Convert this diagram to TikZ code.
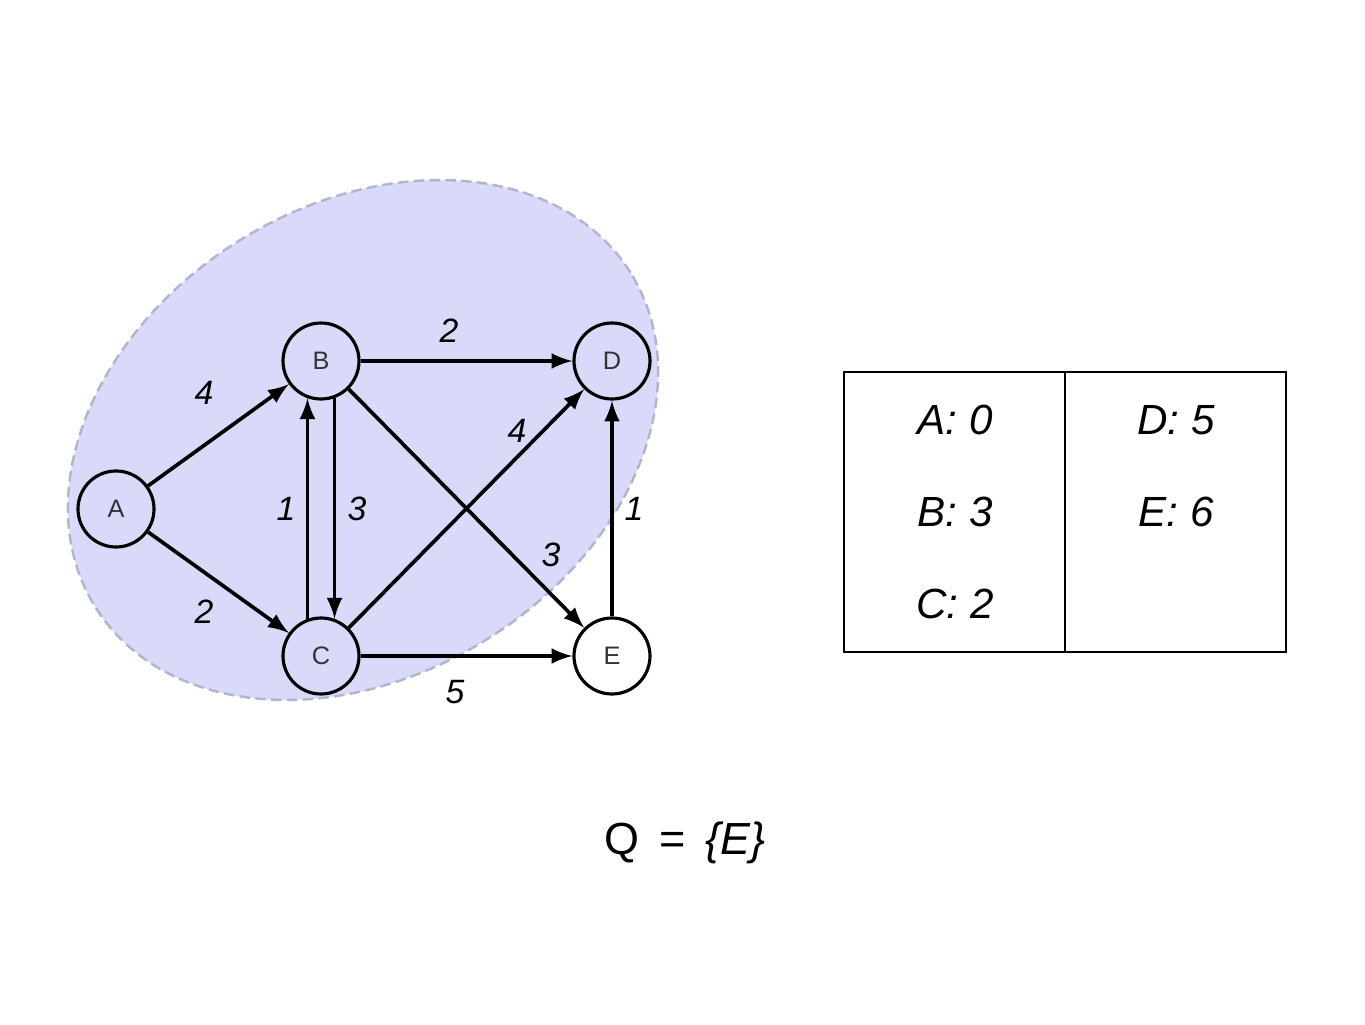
\documentclass[tikz,border=0pt]{standalone}
\usepackage{fontspec}
\setmainfont{Liberation Sans}
\usepackage{xcolor}
\usetikzlibrary{calc}
\definecolor{setfill}{RGB}{217,217,250}
\definecolor{setline}{RGB}{180,180,205}
\definecolor{lettergray}{RGB}{50,50,55}
\tikzset{
  vertex/.style={circle,draw=black,line width=0.9pt,minimum size=0.76cm,inner sep=0pt,
    font=\fontsize{7.2}{8}\selectfont,text=lettergray},
  edge/.style={line width=1.05pt,-latex},
  weight/.style={font=\fontsize{9.6}{10}\selectfont\itshape},
  dist/.style={font=\fontsize{12}{14}\selectfont\itshape}
}
\begin{document}
\begin{tikzpicture}
            \useasboundingbox (0,0) rectangle (13.65,10.24);
            % visited set
            \filldraw[fill=setfill,draw=setline,line width=0.7pt,dash pattern=on 3pt off 1.5pt,rotate around={32:(3.63,5.84)}]
                (3.63,5.84) ellipse (3.155 and 2.347);
            % vertices
            \node[vertex] (A) at (1.16,5.15) {A};
            \node[vertex] (B) at (3.21,6.63) {B};
            \node[vertex] (C) at (3.21,3.68) {C};
            \node[vertex] (D) at (6.12,6.63) {D};
            \node[vertex,fill=white] (E) at (6.12,3.68) {E};
            % edges
            \draw[edge] (A)--(B);
            \draw[edge] (A)--(C);
            \draw[edge] (B)--(D);
            \draw[edge] (C.110)--(B.250);
            \draw[edge] (B.290)--(C.70);
            \draw[edge] (C)--(D);
            \draw[edge] (B)--(E);
            \draw[edge] (E)--(D);
            \draw[edge] (C)--(E);
            % weights
            \node[weight] (wAB) at (2.04,6.31){4};
            \node[weight] (wAC) at (2.04,4.12){2};
            \node[weight] (wBD) at (4.49,6.93){2};
            \node[weight] (wCB) at (2.86,5.15){1};
            \node[weight] (wBC) at (3.57,5.15){3};
            \node[weight] (wCD) at (5.17,5.93){4};
            \node[weight] (wBE) at (5.51,4.69){3};
            \node[weight] (wED) at (6.34,5.15){1};
            \node[weight] (wCE) at (4.55,3.32){5};
            % distance table
            \draw[line width=0.8pt] (8.44,3.72) rectangle (12.86,6.52);
            \draw[line width=0.8pt] (10.65,3.72)--(10.65,6.52);
            \node[dist] (dA) at (9.55,6.04){A: 0};
            \node[dist] (dB) at (9.55,5.12){B: 3};
            \node[dist] (dC) at (9.55,4.20){C: 2};
            \node[dist] (dD) at (11.76,6.04){D: 5};
            \node[dist] (dE) at (11.76,5.12){E: 6};
            % queue
            \node[font=\fontsize{12.8}{14}\selectfont] (Q) at (6.85,1.81){Q \,=\, \textit{\{E\}}};
        \end{tikzpicture}
\end{document}
